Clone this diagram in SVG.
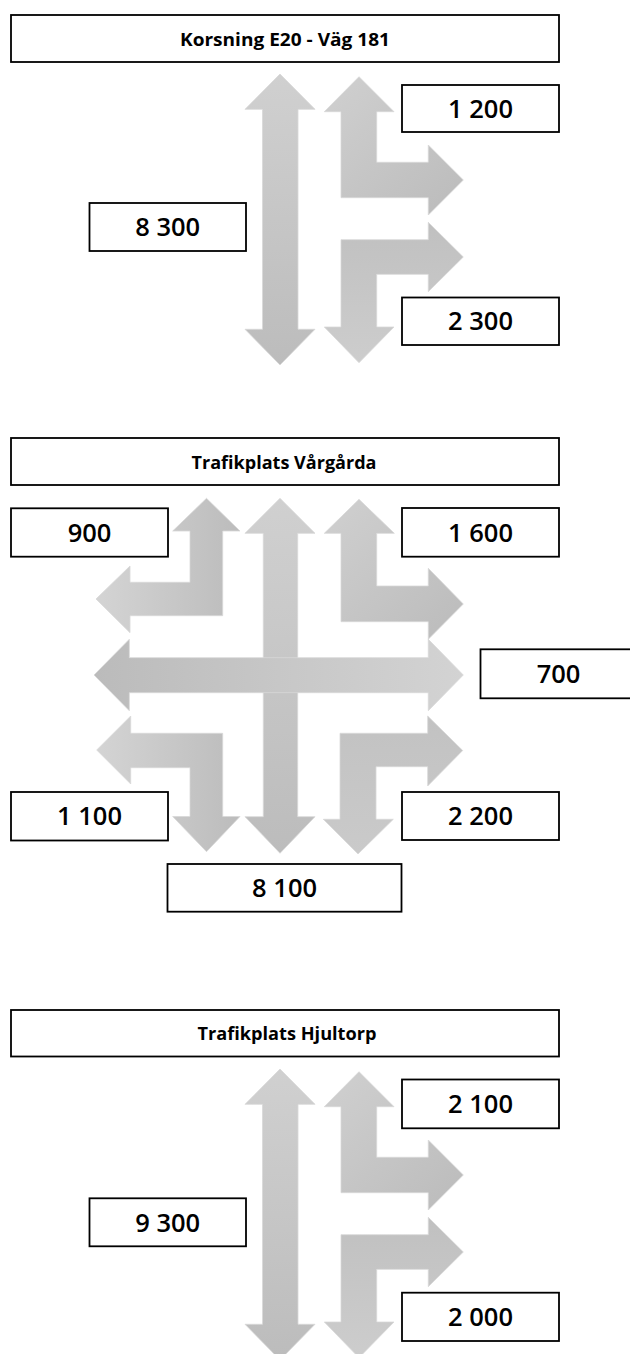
<svg xmlns="http://www.w3.org/2000/svg" width="630" height="1354" viewBox="0 0 630 1354">
  <defs>
    <!-- shading used on the traffic-flow arrows -->
    <linearGradient id="gDown" x1="0" y1="0" x2="0" y2="1">
      <stop offset="0" stop-color="#d0d0d0"/>
      <stop offset="1" stop-color="#bcbcbc"/>
    </linearGradient>
    <linearGradient id="gUp" x1="0" y1="0" x2="0" y2="1">
      <stop offset="0" stop-color="#c0c0c0"/>
      <stop offset="1" stop-color="#cdcdcd"/>
    </linearGradient>
    <linearGradient id="gDiagDown" x1="0" y1="0" x2="1" y2="1">
      <stop offset="0" stop-color="#d0d0d0"/>
      <stop offset="1" stop-color="#bbbbbb"/>
    </linearGradient>
    <linearGradient id="gLeftLight" x1="0" y1="0" x2="1" y2="0">
      <stop offset="0" stop-color="#d4d4d4"/>
      <stop offset="1" stop-color="#bcbcbc"/>
    </linearGradient>
    <linearGradient id="gRightLight" x1="0" y1="0" x2="1" y2="0">
      <stop offset="0" stop-color="#bbbbbb"/>
      <stop offset="1" stop-color="#d3d3d3"/>
    </linearGradient>
    <linearGradient id="gFlat" x1="0" y1="0" x2="0" y2="1">
      <stop offset="0" stop-color="#c2c2c2"/>
      <stop offset="1" stop-color="#cacaca"/>
    </linearGradient>
  </defs>
  <style>
    .box { fill: #ffffff; stroke: #000000; stroke-width: 1.8; }
    .title { font-family: "Open Sans", "Liberation Sans", sans-serif; font-weight: 700; font-size: 17px; fill: #000000; text-anchor: middle; }
    .num { font-family: "Open Sans", "Liberation Sans", sans-serif; font-weight: 600; font-size: 25.5px; fill: #000000; text-anchor: middle; }
    .arrow { stroke: #d8d8d8; stroke-width: 0.8; stroke-linejoin: miter; }
  </style>

  <rect width="630" height="1354" fill="#ffffff"/>

  <!-- arrows (flows) -->
  <g id="connectors">
    <!-- Korsning E20 - Väg 181 -->
    <g id="arrows-korsning">
      <path class="arrow" fill="url(#gDown)" d="M280,74 L315,109.3 L298,109.3 L298,329.3 L315,329.3 L280,365 L245,329.3 L262.5,329.3 L262.5,109.3 L245,109.3 Z"/>
      <path class="arrow" fill="url(#gDiagDown)" d="M359,76.7 L394,111.7 L376.7,111.7 L376.7,162.3 L428.3,162.3 L428.3,145 L463.3,180 L428.3,215 L428.3,197.7 L341,197.7 L341,111.7 L324.3,111.7 Z"/>
      <path class="arrow" fill="url(#gUp)" d="M341,239.7 L428.3,239.7 L428.3,222.3 L463.3,257 L428.3,291.7 L428.3,274.3 L376.7,274.3 L376.7,327 L394,327 L359,362.7 L324.3,327 L341,327 Z"/>
    </g>

    <!-- Trafikplats Vårgårda -->
    <g id="arrows-vargarda">
      <path class="arrow" fill="url(#gDown)" d="M280,498.3 L315,533.3 L297.7,533.3 L297.7,816.7 L315,816.7 L280,853.3 L245,816.7 L263.3,816.7 L263.3,533.3 L245,533.3 Z"/>
      <path class="arrow" fill="url(#gRightLight)" d="M94,675 L129.3,639.3 L129.3,657.7 L428.3,657.7 L428.3,639.3 L463.3,675 L428.3,710.7 L428.3,692.7 L129.3,692.7 L129.3,710.7 Z"/>
      <path class="arrow" fill="url(#gLeftLight)" d="M206.5,498.3 L240,531 L222.7,531 L222.7,615.7 L130,615.7 L130,632.7 L96,599 L130,566 L130,582.3 L190,582.3 L190,531 L172.7,531 Z"/>
      <path class="arrow" fill="url(#gDiagDown)" d="M359,499.3 L394.3,533.3 L376.7,533.3 L376.7,586 L428.3,586 L428.3,568.3 L463.3,604 L428.3,639.3 L428.3,621.7 L341,621.7 L341,533.3 L324.3,533.3 Z"/>
      <path class="arrow" fill="url(#gLeftLight)" d="M222.7,733.3 L222.7,816.5 L240,816.5 L206.5,851.7 L172.7,816.5 L190,816.5 L190,767.7 L130.7,767.7 L130.7,784 L96.7,750 L130.7,716 L130.7,733.3 Z"/>
      <path class="arrow" fill="url(#gFlat)" d="M340,733.3 L427.7,733.3 L427.7,716 L462.7,750.5 L427.7,786 L427.7,766.7 L376,766.7 L376,819.3 L393.3,819.3 L358,854 L323.3,819.3 L340,819.3 Z"/>
    </g>

    <!-- Trafikplats Hjultorp -->
    <g id="arrows-hjultorp" transform="translate(0,995)">
      <path class="arrow" fill="url(#gDown)" d="M280,74 L315,109.3 L298,109.3 L298,329.3 L315,329.3 L280,365 L245,329.3 L262.5,329.3 L262.5,109.3 L245,109.3 Z"/>
      <path class="arrow" fill="url(#gDiagDown)" d="M359,76.7 L394,111.7 L376.7,111.7 L376.7,162.3 L428.3,162.3 L428.3,145 L463.3,180 L428.3,215 L428.3,197.7 L341,197.7 L341,111.7 L324.3,111.7 Z"/>
      <path class="arrow" fill="url(#gUp)" d="M341,239.7 L428.3,239.7 L428.3,222.3 L463.3,257 L428.3,291.7 L428.3,274.3 L376.7,274.3 L376.7,327 L394,327 L359,362.7 L324.3,327 L341,327 Z"/>
    </g>
  </g>

  <!-- Korsning E20 - Väg 181 -->
  <g id="title-korsning">
    <rect class="box" x="11" y="15" width="548" height="47"/>
    <text class="title" x="285" y="45.5" textLength="210" lengthAdjust="spacingAndGlyphs">Korsning E20 - Väg 181</text>
  </g>
  <g id="k-1200">
    <rect class="box" x="402" y="85" width="157" height="47"/>
    <text class="num" x="480.5" y="117.7">1 200</text>
  </g>
  <g id="k-8300">
    <rect class="box" x="89.5" y="203" width="156.5" height="48"/>
    <text class="num" x="167.7" y="236.2">8 300</text>
  </g>
  <g id="k-2300">
    <rect class="box" x="402" y="297.5" width="157" height="47.5"/>
    <text class="num" x="480.5" y="330.4">2 300</text>
  </g>

  <!-- Trafikplats Vårgårda -->
  <g id="title-vargarda">
    <rect class="box" x="11" y="438" width="548" height="47"/>
    <text class="title" x="284" y="469" textLength="185" lengthAdjust="spacingAndGlyphs">Trafikplats Vårgårda</text>
  </g>
  <g id="v-900">
    <rect class="box" x="11" y="508.3" width="157" height="48.4"/>
    <text class="num" x="89.5" y="541.7">900</text>
  </g>
  <g id="v-1600">
    <rect class="box" x="402" y="508" width="157" height="48.7"/>
    <text class="num" x="480.5" y="541.7">1 600</text>
  </g>
  <g id="v-700">
    <rect class="box" x="480.5" y="649.3" width="157" height="49"/>
    <text class="num" x="558.5" y="683">700</text>
  </g>
  <g id="v-1100">
    <rect class="box" x="11" y="792" width="157" height="48.5"/>
    <text class="num" x="89.5" y="825.4">1 100</text>
  </g>
  <g id="v-2200">
    <rect class="box" x="402" y="792" width="157" height="48"/>
    <text class="num" x="480.5" y="825.4">2 200</text>
  </g>
  <g id="v-8100">
    <rect class="box" x="167.5" y="864" width="234" height="47.7"/>
    <text class="num" x="284.6" y="896.7">8 100</text>
  </g>

  <!-- Trafikplats Hjultorp -->
  <g id="title-hjultorp">
    <rect class="box" x="11" y="1010" width="548" height="46.5"/>
    <text class="title" x="287" y="1040.3" textLength="179" lengthAdjust="spacingAndGlyphs">Trafikplats Hjultorp</text>
  </g>
  <g id="h-2100">
    <rect class="box" x="402" y="1079.5" width="157" height="48.8"/>
    <text class="num" x="480.5" y="1113.2">2 100</text>
  </g>
  <g id="h-9300">
    <rect class="box" x="89.5" y="1198.3" width="156.5" height="48"/>
    <text class="num" x="167.7" y="1231.5">9 300</text>
  </g>
  <g id="h-2000">
    <rect class="box" x="402" y="1292.7" width="157" height="48.3"/>
    <text class="num" x="480.5" y="1326">2 000</text>
  </g>
</svg>
